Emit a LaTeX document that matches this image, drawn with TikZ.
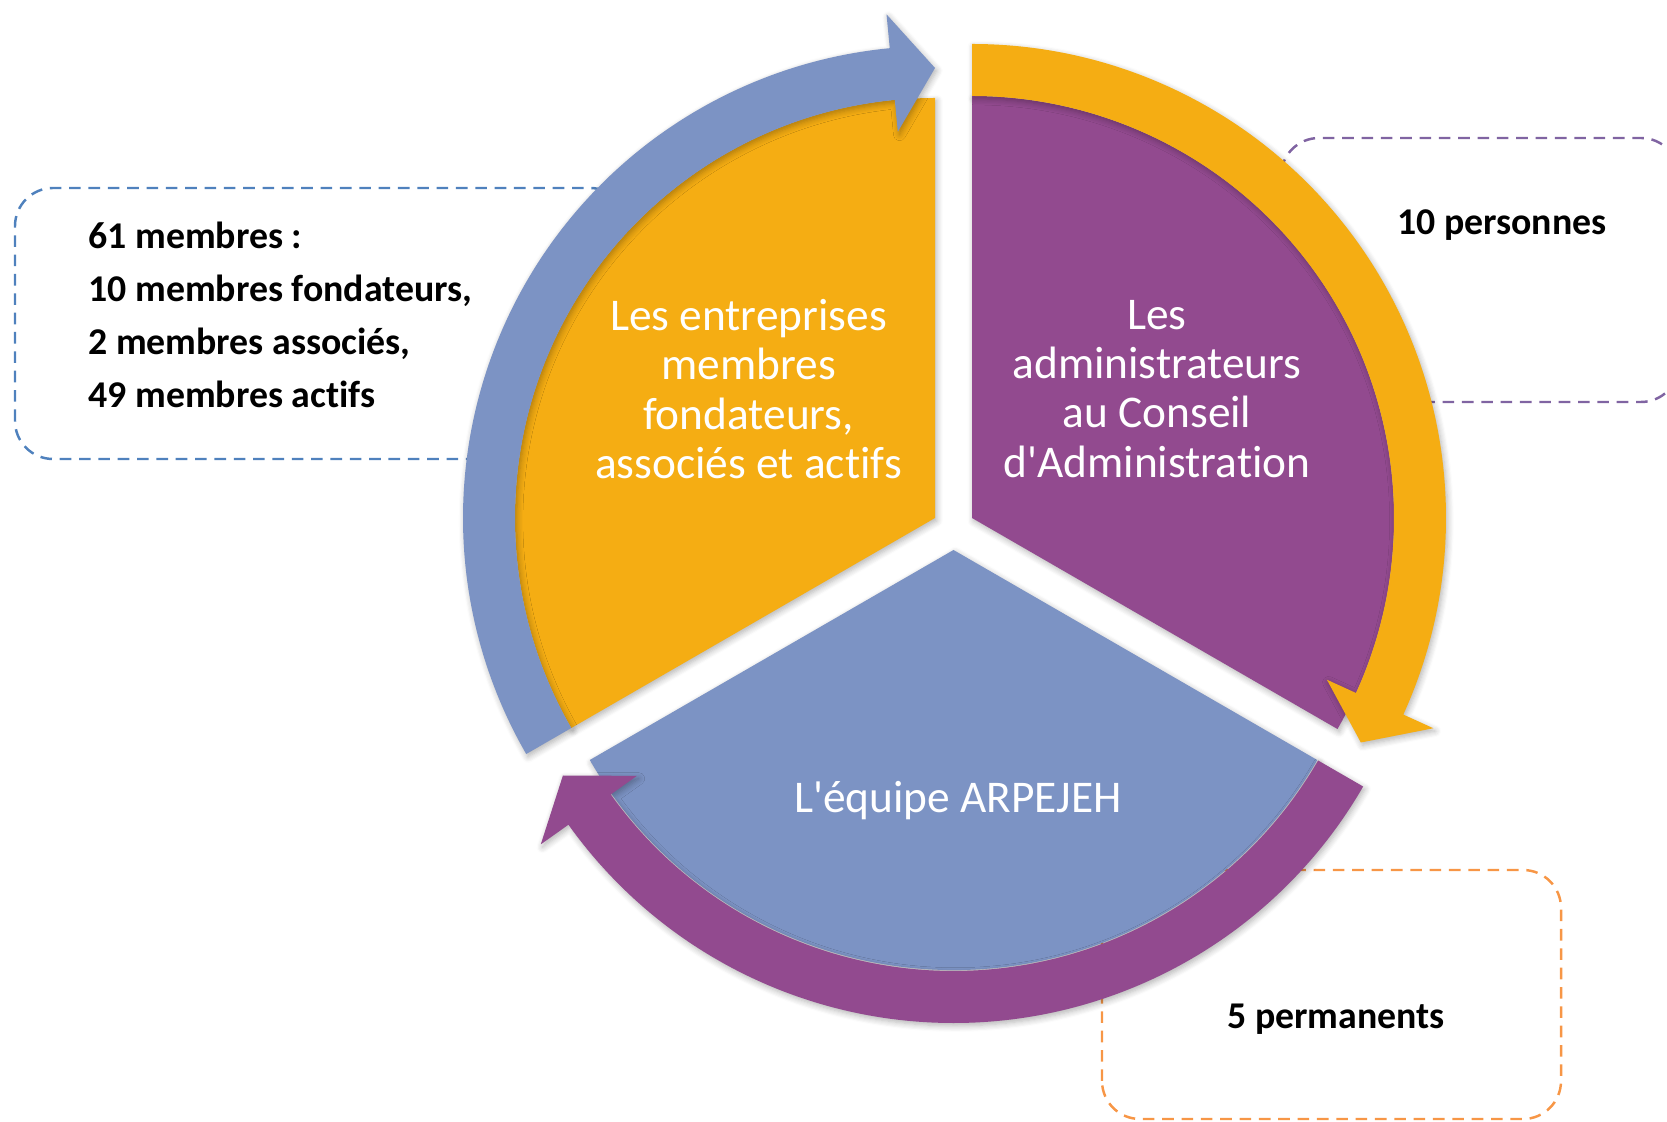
\documentclass[tikz,border=0pt]{standalone}
\usepackage{fontspec}
\newfontfamily\calibri{Carlito}[Ligatures=NoCommon]
\usetikzlibrary{shadows.blur}
\definecolor{gold}{HTML}{F5AD13}
\definecolor{plum}{HTML}{924A8F}
\definecolor{steel}{HTML}{7C93C4}
\definecolor{boxblue}{HTML}{4F81BD}
\definecolor{boxplum}{HTML}{8064A2}
\definecolor{boxorange}{HTML}{F79646}
\begin{document}
\begin{tikzpicture}[x=0.01cm,y=0.01cm,
    part/.style={blur shadow={shadow xshift=0.5pt,shadow yshift=-0.8pt,shadow blur steps=6,shadow opacity=30}},
    info box/.style={dash pattern=on 3.3pt off 2.2pt,line width=0.7pt,rounded corners=0.38cm},
    sector text/.style={text=white,align=center,font=\calibri\fontsize{12.9}{14}\selectfont},
    info text/.style={align=left,font=\calibri\bfseries\fontsize{10.75}{15.1}\selectfont}]
    \useasboundingbox (0,0) rectangle (1667,1121);
    \clip (0,0) rectangle (1667,1121);

    \draw[info box,draw=boxblue] (15,662) rectangle (628,933);
    \draw[info box,draw=boxplum] (1281,719) rectangle (1679,983);
    \draw[info box,draw=boxorange] (1102,2) rectangle (1561,251);

    \fill[gold,part] (935,603) -- ++(90:420) arc[start angle=90,end angle=210,radius=420] -- cycle;
    \fill[plum,part] (972,603) -- ++(-30:422) arc[start angle=-30,end angle=90,radius=422] -- cycle;
    \fill[steel,part] (953.5,571) -- ++(210:420) arc[start angle=210,end angle=330,radius=420] -- cycle;

    \fill[steel,part,shift={(935,603)}] (210:472) arc[start angle=210,end angle=95.5,radius=472]
        -- (95.5:506) -- (90:450) -- (95.5:388) -- (95.5:420) arc[start angle=95.5,end angle=210,radius=420] -- cycle;
    \fill[gold,part,shift={(972,603)}] (90:474) arc[start angle=90,end angle=-24.5,radius=474]
        -- (-24.5:507) -- (-30:449) -- (-24.5:390) -- (-24.5:422) arc[start angle=-24.5,end angle=90,radius=422] -- cycle;
    \fill[plum,part,shift={(953.5,571)}] (330:473) arc[start angle=330,end angle=215.5,radius=473]
        -- (215.5:507) -- (210:451) -- (215.5:389) -- (215.5:421) arc[start angle=215.5,end angle=330,radius=421] -- cycle;

    \node[sector text] (members) at (748.5,732) {Les entreprises\\membres\\fondateurs,\\associés et actifs};
    \node[sector text] (board) at (1157,732) {Les\\administrateurs\\au Conseil\\d'Administration};
    \node[sector text] (team) at (958,320.5) {L'équipe ARPEJEH};
    \node[info text,anchor=west] (count) at (76,806) {61 membres :\\10 membres fondateurs,\\2 membres associés,\\49 membres actifs};
    \node[info text] (persons) at (1502,896) {10 personnes};
    \node[info text] (staff) at (1336,102) {5 permanents};
\end{tikzpicture}
\end{document}
